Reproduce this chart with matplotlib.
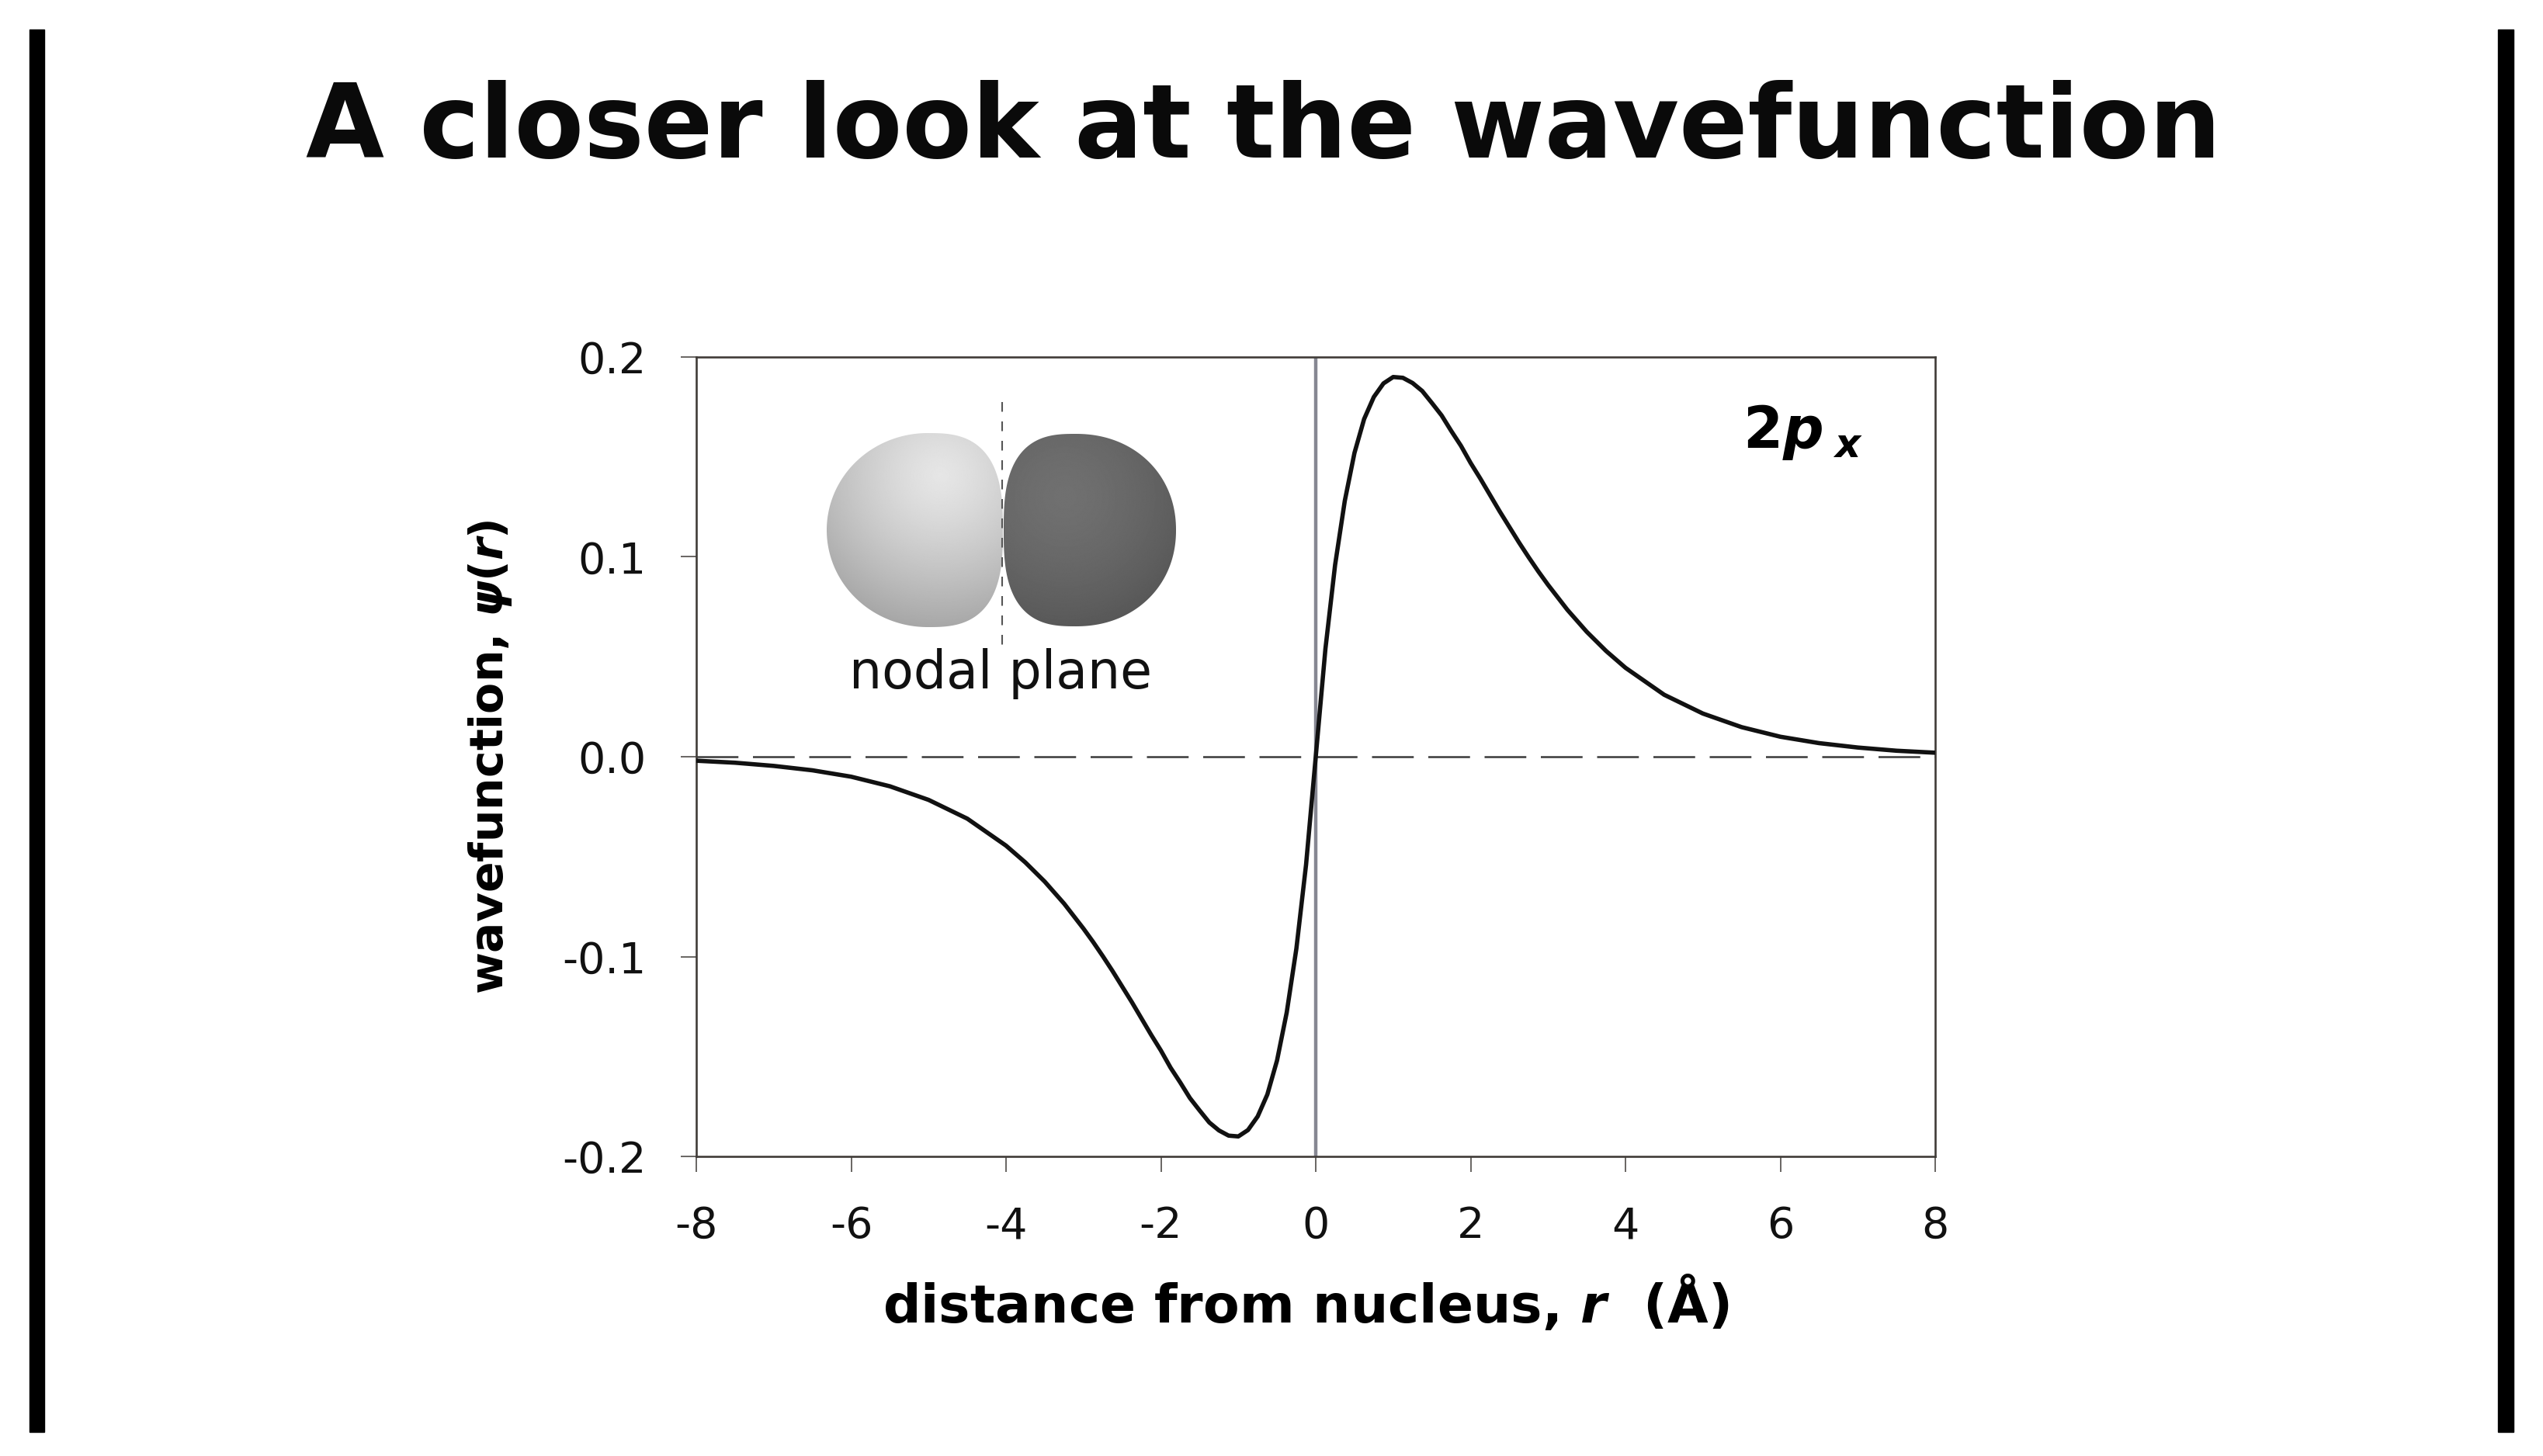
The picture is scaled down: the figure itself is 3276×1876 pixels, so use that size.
import numpy as np
import matplotlib
matplotlib.use("Agg")
import matplotlib.pyplot as plt
from matplotlib import font_manager
from matplotlib.patches import Polygon, Rectangle

# values
x_dist = [-8.0, -7.5, -7.0, -6.5, -6.0, -5.5, -5.0, -4.5, -4.0, -3.75, -3.5,
          -3.25, -3.0, -2.875, -2.75, -2.625, -2.5, -2.375, -2.25, -2.125,
          -2.0, -1.875, -1.75, -1.625, -1.5, -1.375, -1.25, -1.125, -1.0,
          -0.875, -0.75, -0.625, -0.5, -0.375, -0.25, -0.125, 0.0,
          0.125, 0.25, 0.375, 0.5, 0.625, 0.75, 0.875, 1.0, 1.125, 1.25,
          1.375, 1.5, 1.625, 1.75, 1.875, 2.0, 2.125, 2.25, 2.375, 2.5,
          2.625, 2.75, 2.875, 3.0, 3.25, 3.5, 3.75, 4.0, 4.5, 5.0,
          5.5, 6.0, 6.5, 7.0, 7.5, 8.0]
psi_vals = [-0.002, -0.003, -0.0046, -0.0068, -0.010, -0.0148, -0.0216,
            -0.031, -0.0445, -0.0529, -0.0625, -0.0735, -0.086, -0.0927,
            -0.0998, -0.1072, -0.115, -0.1228, -0.131, -0.1392, -0.147,
            -0.1556, -0.163, -0.1708, -0.177, -0.183, -0.187, -0.1896,
            -0.190, -0.1868, -0.180, -0.169, -0.152, -0.128, -0.096, -0.054,
            0.0,
            0.054, 0.096, 0.128, 0.152, 0.169, 0.180, 0.1868, 0.190, 0.1896,
            0.187, 0.183, 0.177, 0.1708, 0.163, 0.1556, 0.147, 0.1392, 0.131,
            0.1228, 0.115, 0.1072, 0.0998, 0.0927, 0.086, 0.0735, 0.0625,
            0.0529, 0.0445, 0.031, 0.0216, 0.0148, 0.010, 0.0068, 0.0046,
            0.003, 0.002]

x_ticks = [-8, -6, -4, -2, 0, 2, 4, 6, 8]
x_tick_labels = ['-8', '-6', '-4', '-2', '0', '2', '4', '6', '8']
y_ticks = [-0.2, -0.1, 0.0, 0.1, 0.2]
y_tick_labels = ['-0.2', '-0.1', '0.0', '0.1', '0.2']

title_text = 'A closer look at the wavefunction'
x_label = r'distance from nucleus, $r$  (Å)'
y_label = r'wavefunction, $\psi$($r$)'
orbital_label = r'2$p_{\;x}$'
node_label = 'nodal plane'

plt.rcParams['axes.unicode_minus'] = False
plt.rcParams['mathtext.fontset'] = 'custom'
plt.rcParams['mathtext.rm'] = 'DejaVu Sans:bold'
plt.rcParams['mathtext.it'] = 'DejaVu Sans:italic:bold'
plt.rcParams['mathtext.bf'] = 'DejaVu Sans:bold'

names = {f.name for f in font_manager.fontManager.ttflist}
if 'Liberation Sans Narrow' in names:
    yfam, ysize = 'Liberation Sans Narrow', 58
else:
    yfam, ysize = 'DejaVu Sans', 42

W, H = 3276, 1876
fig = plt.figure(figsize=(W / 100, H / 100), dpi=100)
fig.patch.set_facecolor('white')

# main plot, placed in pixels
L, R, T, B = 897, 2493, 460, 1490
ax = fig.add_axes([L / W, 1 - B / H, (R - L) / W, (B - T) / H])
ax.set_xlim(-8, 8)
ax.set_ylim(-0.2, 0.2)

spine_col = '#403c38'
for s in ax.spines.values():
    s.set_color(spine_col)
    s.set_linewidth(1.9)

ax.axvline(0, color='#868792', lw=3.2, zorder=1)
ax.axhline(0, color='#3a3a3a', lw=1.8, ls=(0, (21.5, 7.5)), zorder=1)
ax.plot(x_dist, psi_vals, color='#111111', lw=4.0, zorder=3,
        solid_joinstyle='round', solid_capstyle='round')

ax.set_xticks(x_ticks)
ax.set_xticklabels(x_tick_labels)
ax.set_yticks(y_ticks)
ax.set_yticklabels(y_tick_labels)
ax.tick_params(axis='both', direction='out', length=14.5, width=1.1,
               color=spine_col, labelsize=40, labelcolor='#111111')
ax.tick_params(axis='x', pad=31)
ax.tick_params(axis='y', pad=32)

ax.set_xlabel(x_label, fontsize=49, fontweight='bold', family='DejaVu Sans')
ax.xaxis.set_label_coords((1682 - L) / (R - L), -(1641 - B) / (B - T))
ax.set_ylabel(y_label, fontsize=ysize, fontweight='bold', family=yfam)
ax.yaxis.set_label_coords(-(L - 662) / (R - L), 0.5)

ax.text(5.51, 0.1546, orbital_label, fontsize=53, fontweight='bold',
        ha='left', va='baseline', zorder=4)

# overlay in pixel coordinates for the decoration
ov = fig.add_axes([0, 0, 1, 1])
ov.set_xlim(0, W)
ov.set_ylim(H, 0)
ov.axis('off')

ov.add_patch(Rectangle((38, 38), 19, 1807, color='black'))
ov.add_patch(Rectangle((3218, 38), 20, 1807, color='black'))

fig.text(1628 / W, 1 - 203 / H, title_text, fontsize=94, fontweight='bold',
         family='DejaVu Sans', ha='center', va='baseline', color='#0a0a0a')


def lobe(cx, cy, rxl, rxr, ry, nl, nr):
    t = np.linspace(0, 2 * np.pi, 500)
    c, s = np.cos(t), np.sin(t)
    right = c >= 0
    n = np.where(right, nr, nl)
    rx = np.where(right, rxr, rxl)
    x = cx + rx * np.sign(c) * np.abs(c) ** (2 / n)
    y = cy + ry * np.sign(s) * np.abs(s) ** (2 / n)
    return np.column_stack([x, y])


def shaded_lobe(pts, hx, hy, scale, top, drop, low, power):
    x0, x1 = pts[:, 0].min() - 2, pts[:, 0].max() + 2
    y0, y1 = pts[:, 1].min() - 2, pts[:, 1].max() + 2
    gx, gy = np.meshgrid(np.linspace(x0, x1, 300), np.linspace(y0, y1, 300))
    d = np.hypot(gx - hx, gy - hy) / scale
    v = np.clip(top - drop * d ** power, low, 1)
    im = ov.imshow(v, cmap='gray', vmin=0, vmax=1, extent=(x0, x1, y1, y0),
                   origin='upper', aspect='auto', interpolation='bilinear')
    poly = Polygon(pts, closed=True, facecolor='none', edgecolor='none')
    ov.add_patch(poly)
    im.set_clip_path(poly)


left_pts = lobe(1195, 683, 130, 97, 125, 2.0, 2.8)
right_pts = lobe(1386, 683, 93, 129, 124, 2.8, 2.1)
shaded_lobe(left_pts, 1212, 612, 230, 0.90, 0.30, 0.56, 1.3)
shaded_lobe(right_pts, 1372, 640, 200, 0.44, 0.12, 0.29, 1.5)
ov.set_xlim(0, W)
ov.set_ylim(H, 0)

ov.plot([1291, 1291], [518, 833], color='#555555', lw=1.5,
        ls=(0, (6, 6)))
ov.text(1289, 887, node_label, fontsize=48, family='DejaVu Sans',
        ha='center', va='baseline', color='#111111')

fig.savefig('out.png', dpi=100, facecolor='white')
